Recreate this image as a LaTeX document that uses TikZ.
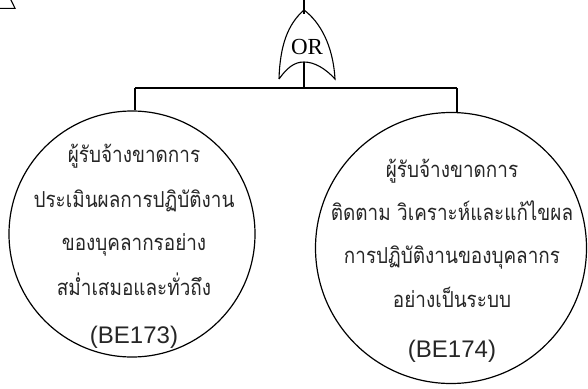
\documentclass[tikz,border=0pt]{standalone}
\usepackage{fontspec}
\setmainfont{Liberation Serif}
\newfontfamily\thaifont[Script=Thai,FakeStretch=0.86]{Loma}
\newfontfamily\latinsans{Liberation Sans}
\usetikzlibrary{shapes.geometric}
\begin{document}
\begin{tikzpicture}[x=1pt,y=-1pt,
  line/.style={draw=black,line width=1.1pt},
  event/.style={circle,draw=black,line width=1.2pt,inner sep=0pt},
  thline/.style={anchor=base,inner sep=0pt,font=\thaifont\fontsize{22}{26}\selectfont,text=black!85},
  idline/.style={anchor=base,inner sep=0pt,font=\latinsans\fontsize{24}{28}\selectfont,text=black!85},
  gatelabel/.style={inner sep=0pt,font=\fontsize{23}{26}\selectfont}]
\useasboundingbox (0,0) rectangle (588,388);
% fragment of a triangle at the top left
\coordinate (tA) at (-2,8.3);
\coordinate (tB) at (15,8.3);
\coordinate (tC) at (10.5,-1);
\draw[line] (tA) -- (tB) -- (tC);
% OR gate
\coordinate (top) at (304,-1);
\coordinate (gin) at (304,14);
\coordinate (gL) at (279,79);
\coordinate (gR) at (335,79);
\coordinate (gA) at (304,10);
\coordinate (gB) at (304,62);
\draw[line] (gL) .. controls (280,45) and (288,24) .. (gA)
  .. controls (320,22) and (333,45) .. (gR)
  .. controls (325,68) and (314,62) .. (gB)
  .. controls (294,62) and (287,68) .. (gL);
\node[gatelabel] (or) at (307,47) {OR};
\draw[line] (top) -- (gin);
% events
\node[event,minimum size=246pt] (e1) at (132,234) {};
\node[event,minimum size=271pt] (e2) at (451,248) {};
\coordinate (jm) at (304,88);
\coordinate (jl) at (135,88);
\coordinate (jr) at (457,88);
\draw[line] (gB) -- (jm);
\draw[line] (jl) -- (jr);
\draw[line] (jl) -- (jl |- e1.north);
\draw[line] (jr) -- (jr |- e2.north);
% left text
\node[thline] (a1) at (134,162) {ผู้รับจ้างขาดการ};
\node[thline] (a2) at (134,207) {ประเมินผลการปฏิบัติงาน};
\node[thline] (a3) at (134,250) {ของบุคลากรอย่าง};
\node[thline] (a4) at (134,295) {สม่ำเสมอและทั่วถึง};
\node[idline] (a5) at (134,343) {(BE173)};
% right text
\node[thline] (b1) at (452,177) {ผู้รับจ้างขาดการ};
\node[thline] (b2) at (452,220) {ติดตาม วิเคราะห์และแก้ไขผล};
\node[thline] (b3) at (452,263) {การปฏิบัติงานของบุคลากร};
\node[thline] (b4) at (452,307) {อย่างเป็นระบบ};
\node[idline] (b5) at (452,357) {(BE174)};
\end{tikzpicture}
\end{document}
